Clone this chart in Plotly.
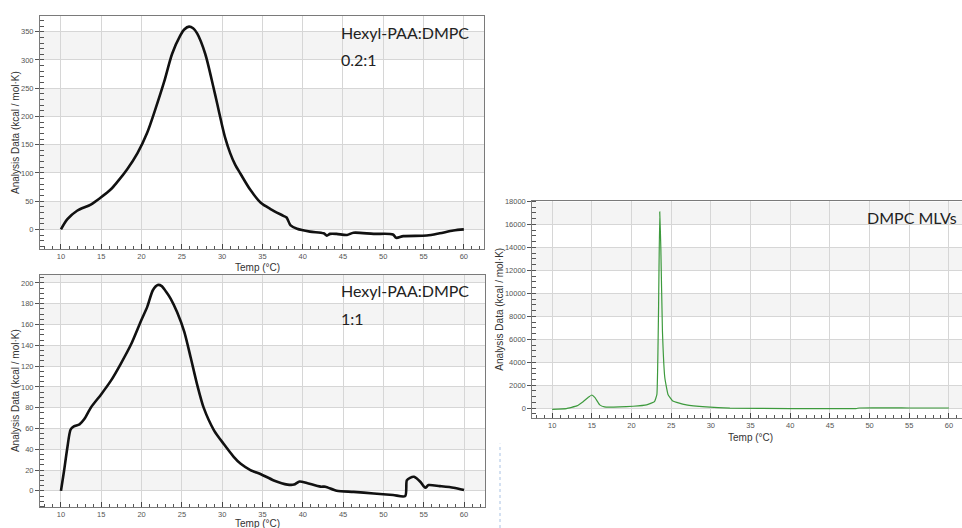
import plotly.graph_objects as go

# DSC thermograms: excess heat capacity vs temperature
t_02 = [10.0, 10.8, 12.0, 13.7, 14.9, 16.2, 17.0, 18.2, 19.5, 20.7, 21.7, 22.8, 23.8,
        24.8, 25.3, 25.9, 26.4, 26.9, 27.9, 28.9, 29.4, 29.9, 30.4, 31.0, 31.6, 32.3,
        33.5, 34.8, 36.0, 37.6, 38.0, 38.5, 39.3, 40.9, 42.6, 43.0, 43.4, 44.2, 45.5,
        46.3, 48.8, 51.2, 51.6, 52.5, 55.4, 57.0, 58.7, 60.0]
cp_02 = [0, 18, 33, 44, 56, 71, 84, 106, 135, 171, 212, 261, 311,
         343, 354, 359, 356, 347, 311, 253, 222, 190, 161, 135, 115, 98,
         70, 47, 36, 24, 21, 7, 1, -4, -7, -11, -8, -8, -10,
         -6, -8, -9, -15, -12, -11, -7, -2, 0]

t_11 = [10.0, 10.4, 10.8, 11.2, 11.6, 12.3, 12.9, 13.7, 15.0, 16.2, 17.4, 18.7, 19.9,
        20.7, 21.4, 22.0, 22.5, 23.0, 23.6, 24.4, 25.3, 26.1, 26.9, 27.7, 29.0, 30.2,
        31.4, 32.3, 33.5, 34.8, 36.4, 38.1, 38.9, 39.6, 40.5, 42.2, 42.8, 44.2, 46.3,
        48.8, 51.2, 52.7, 52.9, 53.3, 53.8, 54.6, 55.2, 55.6, 57.0, 58.7, 60.0]
cp_11 = [0, 20, 42, 59, 62, 64, 69, 80, 93, 106, 122, 141, 163,
         177, 193, 198, 197, 192, 185, 172, 153, 128, 102, 80, 58, 45,
         33, 26, 20, 16, 10, 6, 6, 9, 7.5, 4, 4, 0, -1,
         -2.5, -4, -5, 10, 12.5, 13.5, 8.5, 3, 5.5, 4.5, 3, 0.7]

t_mlv = [10.0, 11.8, 13.1, 13.9, 14.5, 15.0, 15.4, 16.0, 16.6, 18.5, 20.2, 21.9, 22.9,
         23.2, 23.4, 23.56, 23.7, 23.9, 24.2, 24.6, 25.2, 26.9, 29.4, 32.4, 40.0, 48.3,
         48.7, 55.0, 60.0]
cp_mlv = [-100, -30, 200, 570, 920, 1150, 920, 290, 110, 110, 170, 290, 570,
          1200, 8100, 17100, 13900, 6700, 2650, 1200, 630, 290, 110, 0, -30, -30,
          20, 20, 20]

labels = ["Hexyl-PAA:DMPC", "0.2:1", "Hexyl-PAA:DMPC", "1:1", "DMPC MLVs"]
y_title = "Analysis Data (kcal / mol·K)"
x_title = "Temp (°C)"

W, H = 962, 528


def px(x):
    return x / W


def py(y):
    return 1 - y / H


BAND = "#f4f4f4"
GRID = "#d6d6d6"
AXIS = "#7a7a7a"
TICKFONT = dict(family="Liberation Sans, Arial", size=7.5, color="#555555")

fig = go.Figure()
fig.add_trace(go.Scatter(x=t_02, y=cp_02, mode="lines", xaxis="x", yaxis="y",
                         line=dict(color="#111111", width=2.6, shape="spline", smoothing=0.8),
                         showlegend=False))
fig.add_trace(go.Scatter(x=t_11, y=cp_11, mode="lines", xaxis="x2", yaxis="y2",
                         line=dict(color="#111111", width=2.6, shape="spline", smoothing=0.7),
                         showlegend=False))
fig.add_trace(go.Scatter(x=t_mlv, y=cp_mlv, mode="lines", xaxis="x3", yaxis="y3",
                         line=dict(color="#3d9a3d", width=1.2, shape="spline", smoothing=0.3),
                         showlegend=False))


def xax(domain, anchor, rng):
    return dict(domain=domain, anchor=anchor, range=rng, dtick=5, tick0=0,
                showgrid=True, gridcolor=GRID, gridwidth=1, zeroline=False,
                showline=True, linecolor=AXIS, linewidth=1, mirror=True,
                ticks="inside", ticklen=5, tickcolor="#444444",
                minor=dict(dtick=1, ticks="inside", ticklen=3, tickcolor="#555555", showgrid=False),
                tickfont=TICKFONT)


def yax(domain, anchor, rng, dtick, minor, mirror=True):
    return dict(domain=domain, anchor=anchor, range=rng, dtick=dtick, tick0=0,
                showgrid=True, gridcolor=GRID, gridwidth=1, zeroline=False,
                showline=True, linecolor=AXIS, linewidth=1, mirror=mirror,
                ticks="outside", ticklen=4, tickcolor="#555555", tickformat="d",
                minor=dict(dtick=minor, ticks="inside", ticklen=4, tickcolor="#555555", showgrid=False),
                tickfont=TICKFONT)


fig.update_layout(
    width=W, height=H, margin=dict(l=0, r=0, t=0, b=0),
    paper_bgcolor="white", plot_bgcolor="white",
    xaxis=xax([px(40), px(484)], "y", [7.4, 62.5]),
    yaxis=yax([py(247), py(12)], "x", [-35, 378], 50, 10),
    xaxis2=xax([px(40), px(485)], "y2", [7.4, 62.6]),
    yaxis2=yax([py(507.3), py(272.7)], "x2", [-16, 208], 20, 5),
    xaxis3=xax([px(532.3), 1.0], "y3", [7.5, 61.65]),
    yaxis3=yax([py(417.3), py(199)], "x3", [-864, 18000], 2000, 500, mirror=False),
)

# alternating shaded bands between the major y gridlines
shapes = []
for yref, step, lo, hi in [("y", 50, -35, 378), ("y2", 20, -16, 208), ("y3", 2000, -864, 18000)]:
    v = 0
    while v < hi:
        shapes.append(dict(type="rect", xref=yref.replace("y", "x") + " domain", yref=yref,
                           x0=0, x1=1, y0=v, y1=min(v + step, hi), fillcolor=BAND,
                           line=dict(width=0), layer="below"))
        v += 2 * step

# dotted separator below the right-hand chart
shapes.append(dict(type="line", xref="paper", yref="paper", x0=px(500), x1=px(500),
                   y0=0, y1=py(443), line=dict(color="#a9c2e3", width=1, dash="3px,3px")))
fig.update_layout(shapes=shapes)

LABELFONT = dict(family="Lato, Noto Sans", size=16, color="#222222")
ann = [
    dict(x=px(339), y=py(29), text=labels[0], xanchor="left"),
    dict(x=px(339), y=py(56), text=labels[1], xanchor="left"),
    dict(x=px(339), y=py(289), text=labels[2], xanchor="left"),
    dict(x=px(339), y=py(317), text=labels[3], xanchor="left"),
    dict(x=px(959), y=py(215), text=labels[4], xanchor="right"),
]
for a in ann:
    a.update(xref="paper", yref="paper", yanchor="middle",
             showarrow=False, font=LABELFONT)

TITLEFONT = dict(family="Liberation Sans, Arial", size=10, color="#333333")
for (xc, yc) in [(15, 130), (15, 390), (500, 308)]:
    ann.append(dict(x=px(xc), y=py(yc), text=y_title, textangle=-90, xref="paper", yref="paper",
                    xanchor="center", yanchor="middle", showarrow=False, font=TITLEFONT))
for (xc, yc) in [(257, 266), (257, 523), (750, 437)]:
    ann.append(dict(x=px(xc), y=py(yc), text=x_title, xref="paper", yref="paper",
                    xanchor="center", yanchor="middle", showarrow=False, font=TITLEFONT))
fig.update_layout(annotations=ann)

fig.write_html("out.html")
